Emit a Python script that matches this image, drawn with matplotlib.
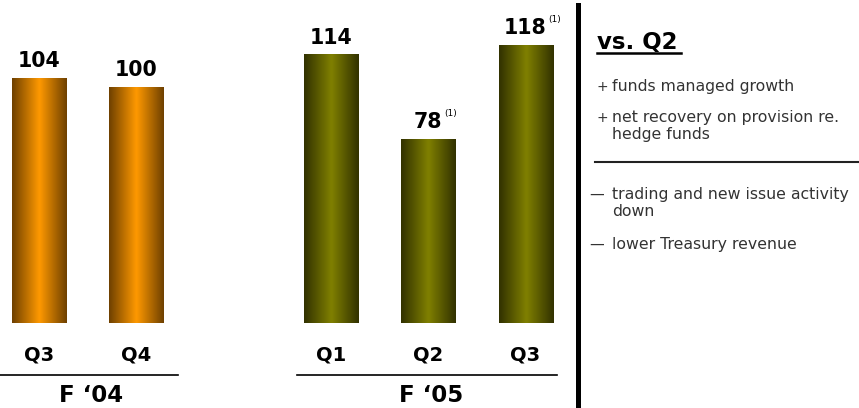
import numpy as np
import matplotlib.pyplot as plt
from matplotlib.colors import LinearSegmentedColormap
import matplotlib.transforms as mtransforms

# data
quarters = ['Q3', 'Q4', 'Q1', 'Q2', 'Q3']
values = [104, 100, 114, 78, 118]
notes = ['', '', '', '(1)', '(1)']
years = ['F \u201804', 'F \u201805']
year_of_bar = [0, 0, 1, 1, 1]
positions = [0, 1, 3, 4, 5]

side_title = 'vs. Q2'
pluses = ['funds managed growth', 'net recovery on provision re.\nhedge funds']
minuses = ['trading and new issue activity\ndown', 'lower Treasury revenue']

W, H = 859, 408
fig = plt.figure(figsize=(W / 100, H / 100), dpi=100)
ax = fig.add_axes([0, 1 - 323 / H, 580 / W, 323 / H])
ax.set_axis_off()

cmaps = [
    LinearSegmentedColormap.from_list('org', ['#6e4000', '#ff9900', '#6e4000']),
    LinearSegmentedColormap.from_list('olv', ['#313100', '#808000', '#313100']),
]
grad = np.linspace(0, 1, 256).reshape(1, -1)
bw = 0.555
for p, v, g in zip(positions, values, year_of_bar):
    ax.imshow(grad, extent=[p - bw / 2, p + bw / 2, 0, v], aspect='auto',
              cmap=cmaps[g], interpolation='bicubic', zorder=2)

ax.set_xlim(-0.401, 5.56)
ax.set_ylim(0, 137.2)

vfs = 14.8
for p, v, n in zip(positions, values, notes):
    ax.annotate(str(v), (p, v), xytext=(0, 8), textcoords='offset points',
                ha='center', va='baseline', fontsize=vfs, fontweight='bold',
                family='DejaVu Sans')
    if n:
        off = len(str(v)) * 0.696 * vfs / 2 + 1
        ax.annotate(n, (p, v), xytext=(off, 16.5), textcoords='offset points',
                    ha='left', va='baseline', fontsize=6.5, family='DejaVu Sans')

tr = mtransforms.blended_transform_factory(ax.transData, fig.transFigure)
for p, q in zip(positions, quarters):
    ax.text(p, 1 - 355 / H, q, transform=tr, ha='center', va='center',
            fontsize=14, fontweight='bold', family='DejaVu Sans')

for gi, yl in enumerate(years):
    ps = [p for p, g in zip(positions, year_of_bar) if g == gi]
    x0 = min(ps) - 0.401 if gi == 0 else min(ps) - 0.35
    x1 = max(ps) + 0.43 if gi == 0 else max(ps) + 0.32
    ax.plot([x0, x1], [1 - 375 / H] * 2, color='black', lw=1.2,
            transform=tr, clip_on=False)
    ax.text((min(ps) + max(ps)) / 2 + 0.03, 1 - 396 / H, yl, transform=tr,
            ha='center', va='center', fontsize=16.5, fontweight='bold',
            family='DejaVu Sans')

# divider and side panel
fig.add_artist(plt.Line2D([577.5 / W] * 2, [0, 1 - 5 / H], color='black', lw=3.6))
fig.text(597 / W, 1 - 43 / H, side_title, fontsize=16.5, fontweight='bold',
         family='DejaVu Sans', va='center', ha='left')
fig.add_artist(plt.Line2D([597 / W, 681 / W], [1 - 53 / H] * 2, color='black', lw=1.8))

tc = '#333333'
fs = 11.3
for y, s in zip([86, 117], pluses):
    fig.text(597 / W, 1 - (y + 1) / H, '+', fontsize=10, family='DejaVu Sans',
             color=tc, va='center', ha='left')
    fig.text(612 / W, 1 - (y - 7) / H, s, fontsize=fs, family='DejaVu Sans',
             color=tc, va='top', ha='left', linespacing=1.2)
fig.add_artist(plt.Line2D([595 / W, 1], [1 - 162.5 / H] * 2, color='#222222', lw=1.5))
for y, s in zip([194, 244], minuses):
    fig.text(589 / W, 1 - y / H, '\u2014', fontsize=10.5, family='DejaVu Sans',
             color=tc, va='center', ha='left')
    fig.text(612 / W, 1 - (y - 7) / H, s, fontsize=fs, family='DejaVu Sans',
             color=tc, va='top', ha='left', linespacing=1.2)

fig.savefig('out.png', dpi=100)
